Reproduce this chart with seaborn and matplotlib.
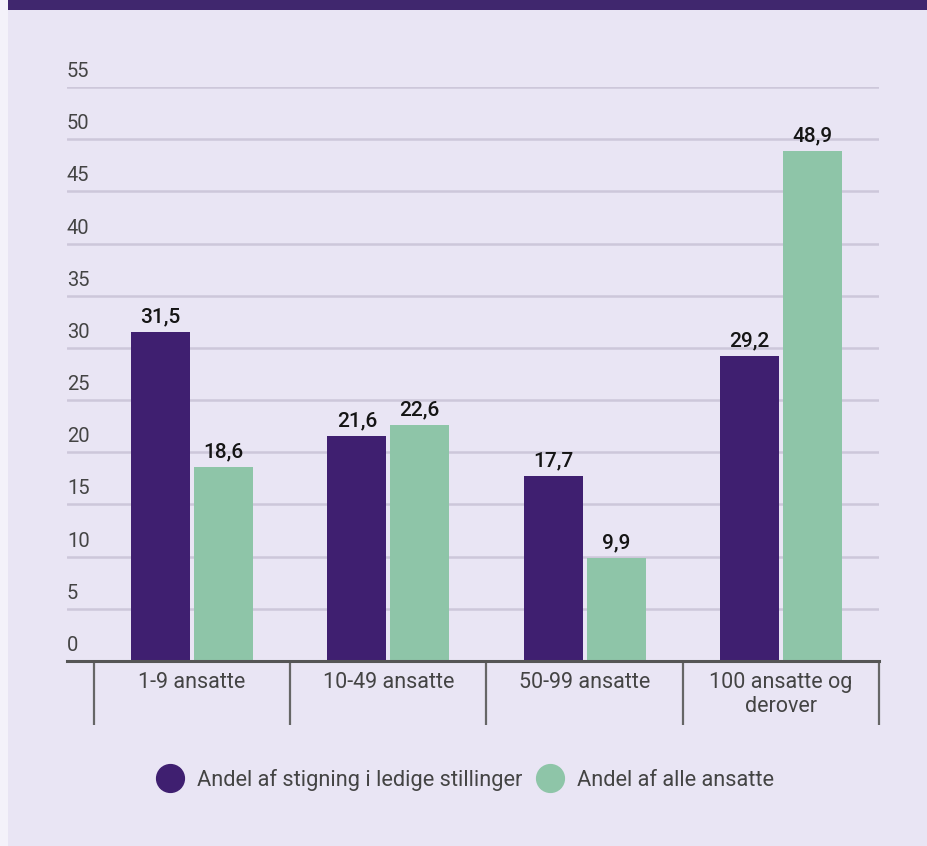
import matplotlib
matplotlib.use("Agg")
import matplotlib.pyplot as plt
from matplotlib.patches import Rectangle
from matplotlib.lines import Line2D
import matplotlib.transforms as mtransforms
import pandas as pd
import seaborn as sns

# ── Data ───────────────────────────────────────────────────────────────────────
categories = ["1-9 ansatte", "10-49 ansatte", "50-99 ansatte", "100 ansatte og\nderover"]
series = ["Andel af stigning i ledige stillinger", "Andel af alle ansatte"]
stigning = [31.5, 21.6, 17.7, 29.2]
alle_ansatte = [18.6, 22.6, 9.9, 48.9]
y_ticks = [0, 5, 10, 15, 20, 25, 30, 35, 40, 45, 50, 55]

# ── Style ──────────────────────────────────────────────────────────────────────
BG = "#e9e5f4"
PURPLE = "#3f1f70"
GREEN = "#8ec5a8"
BAND = "#40276e"
GRID = "#cdc7da"
TEXT = "#444444"

sns.set_theme(style="white")
plt.rcParams["font.family"] = ["Roboto", "DejaVu Sans"]

df = pd.DataFrame({
    "kategori": categories * 2,
    "andel": stigning + alle_ansatte,
    "serie": [series[0]] * len(categories) + [series[1]] * len(categories),
})

fig = plt.figure(figsize=(9.28, 8.46), dpi=100, facecolor=BG)
ax = fig.add_axes([67 / 928, 185 / 846, 812 / 928, 574 / 846])
ax.set_facecolor(BG)

# top band and left strip
fig.patches.append(Rectangle((0, 1 - 10 / 846), 1, 10 / 846, transform=fig.transFigure,
                             facecolor=BAND, edgecolor="none", zorder=0))
fig.patches.append(Rectangle((0, 0), 8 / 928, 1, transform=fig.transFigure,
                             facecolor="#f4f2fa", edgecolor="none", zorder=1))

sns.barplot(data=df, x="kategori", y="andel", hue="serie", order=categories,
            hue_order=series, palette=[PURPLE, GREEN], saturation=1, width=0.64, gap=0.06,
            linewidth=0, edgecolor="none", legend=False, ax=ax, zorder=3)

for container in ax.containers:
    ax.bar_label(container, labels=[f"{v:.1f}".replace(".", ",") for v in container.datavalues],
                 padding=4, fontsize=15, fontweight="medium", color="#151515")

ax.set_ylim(0, 55)
ax.set_xlim(-0.6375, 3.5)
ax.set_yticks(y_ticks)
ax.set_yticklabels([])
ax.tick_params(axis="y", length=0)
ax.yaxis.grid(True, color=GRID, lw=1.8)
ax.set_axisbelow(True)
ax.set_xlabel("")
ax.set_ylabel("")

for s in ["top", "right", "left"]:
    ax.spines[s].set_visible(False)
ax.spines["bottom"].set_color("#555555")
ax.spines["bottom"].set_linewidth(2.2)
ax.spines["bottom"].set_zorder(5)

# y tick labels sit above the gridlines
offset = mtransforms.offset_copy(ax.get_yaxis_transform(), fig=fig, x=0, y=6, units="dots")
for t in y_ticks:
    ax.text(0, t, str(t), transform=offset, ha="left", va="bottom",
            fontsize=14.5, color=TEXT)

# category labels and separators
ax.set_xticks(range(len(categories)))
ax.set_xticklabels(categories, fontsize=15.5, color=TEXT, linespacing=1.15, va="top")
ax.tick_params(axis="x", length=0, pad=8)
sep = [i - 0.5 for i in range(len(categories) + 1)]
ax.vlines(sep, 0, -0.1115, transform=ax.get_xaxis_transform(), color="#666666",
          lw=1.6, clip_on=False)

handles = [Line2D([], [], marker="o", ls="none", markersize=20, color=c) for c in [PURPLE, GREEN]]
fig.legend(handles, series, loc="center", bbox_to_anchor=(0.503, 1 - 780 / 846), ncol=2,
           frameon=False, fontsize=15.7, labelcolor=TEXT, handletextpad=0.75,
           columnspacing=0.75, handlelength=1.0)

fig.savefig("out.png", dpi=100, facecolor=BG)
